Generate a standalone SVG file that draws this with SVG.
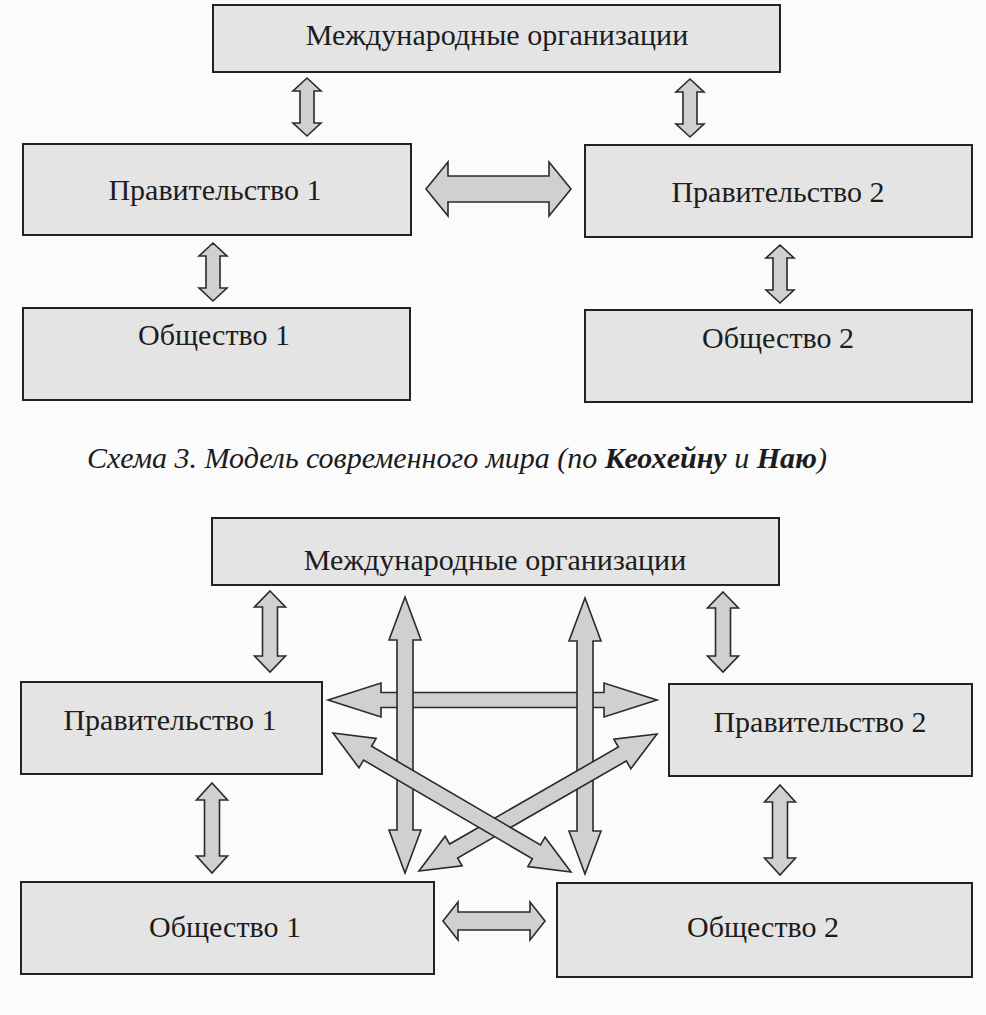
<svg xmlns="http://www.w3.org/2000/svg" width="986" height="1015" viewBox="0 0 986 1015">
<style>
.box{fill:#e4e4e4;stroke:#222;stroke-width:2}
.lbl{font-family:"Liberation Serif","Times New Roman",serif;font-size:30px;fill:#1c1c1c;text-anchor:middle}
.arr{fill:#d0d0d0;stroke:#2a2a2a;stroke-width:1.6;stroke-linejoin:miter}
.cap{font-family:"Liberation Serif","Times New Roman",serif;font-size:30px;font-style:italic;fill:#1c1c1c}
</style>
<rect x="0" y="0" width="986" height="1015" fill="#fbfbfb"/>
<g id="connectors-top">
<path class="arr" d="M307,78 L321,91 L314,91 L314,123 L321,123 L307,136 L293,123 L300,123 L300,91 L293,91 Z"/>
<path class="arr" d="M690,79 L704,92 L697,92 L697,124 L704,124 L690,137 L676,124 L683,124 L683,92 L676,92 Z"/>
<path class="arr" d="M213,243 L227,256 L220,256 L220,288 L227,288 L213,301 L199,288 L206,288 L206,256 L199,256 Z"/>
<path class="arr" d="M780,245 L794,258 L787,258 L787,290 L794,290 L780,303 L766,290 L773,290 L773,258 L766,258 Z"/>
<path class="arr" d="M426,189 L448,162 L448,176 L549,176 L549,162 L571,189 L549,216 L549,202 L448,202 L448,216 Z"/>
</g>
<g id="top-intl"><rect class="box" x="213" y="5" width="567" height="67"/><text class="lbl" x="497" y="45">Международные организации</text></g>
<g id="top-gov1"><rect class="box" x="23" y="144" width="388" height="91"/><text class="lbl" x="215" y="200">Правительство 1</text></g>
<g id="top-gov2"><rect class="box" x="585" y="145" width="387" height="92"/><text class="lbl" x="778" y="202">Правительство 2</text></g>
<g id="top-soc1"><rect class="box" x="23" y="308" width="387" height="92"/><text class="lbl" x="214" y="345">Общество 1</text></g>
<g id="top-soc2"><rect class="box" x="585" y="310" width="387" height="92"/><text class="lbl" x="778" y="348">Общество 2</text></g>
<text class="cap" x="87" y="468">Схема 3. Модель современного мира (по <tspan font-weight="bold">Кеохейну</tspan> и <tspan font-weight="bold">Наю</tspan>)</text>
<g id="connectors-bottom">
<path class="arr" d="M270,591 L285.5,607 L277.5,607 L277.5,656 L285.5,656 L270,672 L254.5,656 L262.5,656 L262.5,607 L254.5,607 Z"/>
<path class="arr" d="M723,592 L738.5,608 L730.5,608 L730.5,656 L738.5,656 L723,672 L707.5,656 L715.5,656 L715.5,608 L707.5,608 Z"/>
<path class="arr" d="M212,783 L227.5,800 L219.5,800 L219.5,856 L227.5,856 L212,873 L196.5,856 L204.5,856 L204.5,800 L196.5,800 Z"/>
<path class="arr" d="M780,785 L795.5,802 L787.5,802 L787.5,858 L795.5,858 L780,875 L764.5,858 L772.5,858 L772.5,802 L764.5,802 Z"/>
<path class="arr" d="M328,700 L381,683 L381,692.5 L604,692.5 L604,683 L657,700 L604,717 L604,707.5 L381,707.5 L381,717 Z"/>
<path class="arr" d="M405,597 L421,640 L413,640 L413,830 L421,830 L405,873 L389,830 L397,830 L397,640 L389,640 Z"/>
<path class="arr" d="M585,598 L601,641 L593,641 L593,831 L601,831 L585,874 L569,831 L577,831 L577,641 L569,641 Z"/>
<path class="arr" transform="translate(538,802.5) rotate(150.1)" d="M-137.3,0 L-97.3,-17 L-97.3,-8 L97.3,-8 L97.3,-17 L137.3,0 L97.3,17 L97.3,8 L-97.3,8 L-97.3,17 Z"/>
<path class="arr" transform="translate(452,802.5) rotate(30.3)" d="M-137.8,0 L-97.8,-17 L-97.8,-8 L97.8,-8 L97.8,-17 L137.8,0 L97.8,17 L97.8,8 L-97.8,8 L-97.8,17 Z"/>
<path class="arr" d="M443,921 L458,902 L458,912 L530,912 L530,902 L545,921 L530,940 L530,930 L458,930 L458,940 Z"/>
</g>
<g id="bot-intl"><rect class="box" x="212" y="518" width="567" height="67"/><text class="lbl" x="495" y="570">Международные организации</text></g>
<g id="bot-gov1"><rect class="box" x="21" y="682" width="301" height="92"/><text class="lbl" x="170" y="730">Правительство 1</text></g>
<g id="bot-gov2"><rect class="box" x="669" y="684" width="303" height="92"/><text class="lbl" x="820" y="732">Правительство 2</text></g>
<g id="bot-soc1"><rect class="box" x="21" y="882" width="413" height="92"/><text class="lbl" x="225" y="937">Общество 1</text></g>
<g id="bot-soc2"><rect class="box" x="557" y="883" width="415" height="94"/><text class="lbl" x="763" y="937">Общество 2</text></g>
</svg>
